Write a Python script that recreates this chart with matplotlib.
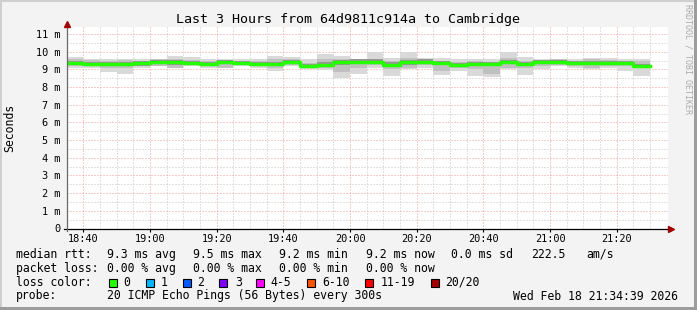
import numpy as np
import matplotlib
matplotlib.use("Agg")
import matplotlib.pyplot as plt
from matplotlib.patches import Rectangle

# 5-minute steps, minutes after 18:00
step_start = [35 + 5 * i for i in range(35)]

median = [9.38, 9.32, 9.32, 9.33, 9.34, 9.42, 9.40, 9.37, 9.33, 9.43, 9.38, 9.33,
          9.33, 9.42, 9.20, 9.28, 9.40, 9.45, 9.45, 9.28, 9.40, 9.45, 9.37, 9.25,
          9.30, 9.30, 9.42, 9.30, 9.43, 9.43, 9.35, 9.35, 9.35, 9.36, 9.20]
smoke_hi = [9.70, 9.57, 9.60, 9.57, 9.57, 9.60, 9.79, 9.70, 9.57, 9.57, 9.57, 9.57,
            9.75, 9.72, 9.60, 9.85, 9.75, 9.60, 10.0, 9.66, 10.0, 9.66, 9.66, 9.57,
            9.60, 9.57, 10.0, 9.72, 9.57, 9.60, 9.57, 9.66, 9.66, 9.57, 9.57]
smoke_lo = [9.09, 9.09, 8.85, 8.72, 9.06, 9.19, 9.09, 9.19, 9.09, 9.09, 9.19, 9.09,
            8.91, 9.19, 9.00, 8.96, 8.53, 8.77, 9.09, 8.62, 9.00, 9.09, 8.66, 8.91,
            8.62, 8.57, 9.00, 8.66, 9.00, 9.19, 9.09, 9.00, 9.09, 8.91, 8.62]
inner_hi = [9.57, 9.51, 9.47, 9.53, 9.47, 9.57, 9.60, 9.53, 9.47, 9.47, 9.47, 9.47,
            9.60, 9.60, 9.38, 9.57, 9.57, 9.60, 9.57, 9.47, 9.66, 9.57, 9.47, 9.42,
            9.47, 9.38, 9.66, 9.47, 9.51, 9.57, 9.47, 9.60, 9.51, 9.47, 9.47]
inner_lo = [9.19, 9.19, 9.09, 9.09, 9.19, 9.19, 9.09, 9.23, 9.19, 9.09, 9.23, 9.19,
            9.09, 9.23, 9.09, 9.09, 8.85, 9.09, 9.28, 9.00, 9.09, 9.23, 8.91, 9.09,
            9.00, 8.72, 9.09, 9.09, 9.19, 9.23, 9.19, 9.09, 9.19, 9.19, 9.09]

time_ticks = [40, 60, 80, 100, 120, 140, 160, 180, 200]
time_labels = ["18:40", "19:00", "19:20", "19:40", "20:00", "20:20", "20:40", "21:00", "21:20"]
y_ticks = list(range(12))
y_labels = ["0"] + [f"{v} m" for v in range(1, 12)]

loss_names = ["0", "1", "2", "3", "4-5", "6-10", "11-19", "20/20"]
loss_colors = ["#26ff00", "#00b8ff", "#0059ff", "#7e00ff", "#ff00ff", "#ff5500", "#ff0000", "#a10000"]
loss_box_x = [108.7, 145.7, 182.7, 219.3, 256, 307.3, 365.3, 430.7]
loss_text_x = [123.3, 161, 197, 235, 270.7, 322.3, 380.7, 445.3]

W, H = 697, 310
mono = "DejaVu Sans Mono"
plt.rcParams["font.family"] = mono

fig = plt.figure(figsize=(W / 100, H / 100), dpi=100, facecolor="#f3f3f3")

# frame
def px_rect(x, y, w, h, color):
    fig.add_artist(Rectangle((x / W, 1 - (y + h) / H), w / W, h / H,
                             transform=fig.transFigure, color=color, lw=0, zorder=0))

px_rect(0, 0, W, 2, "#cfcfcf")
px_rect(0, 0, 2, H, "#cfcfcf")
px_rect(0, H - 3, W, 3, "#9c9c9c")
px_rect(W - 3, 0, 3, H, "#9c9c9c")

ax_l, ax_r, ax_t, ax_b = 67, 668, 27, 228.5
ax = fig.add_axes([ax_l / W, 1 - ax_b / H, (ax_r - ax_l) / W, (ax_b - ax_t) / H])
ax.set_facecolor("white")
ax.set_xlim(35.1, 35.1 + (ax_r - ax_l) * 0.3)
ax.set_ylim(0, (ax_b - ax_t) / 17.67)

# grid
dots = (0, (1, 2))
for xm in range(40, 215, 5):
    if xm not in time_ticks:
        ax.axvline(xm, color="#c4c4c4", lw=0.72, ls=dots, zorder=1)
for ym in np.arange(0.5, 11.5, 1.0):
    ax.axhline(ym, color="#c4c4c4", lw=0.72, ls=dots, zorder=1)
for xm in time_ticks:
    ax.axvline(xm, color="#f09a9a", lw=0.72, ls=dots, zorder=1)
for ym in range(1, 12):
    ax.axhline(ym, color="#f09a9a", lw=0.72, ls=dots, zorder=1)

# smoke + median
xs = np.append(step_start, step_start[-1] + 5)
def ext(a):
    return np.append(a, a[-1])

ax.fill_between(xs, ext(smoke_lo), ext(smoke_hi), step="post", color="#d9d9d9", lw=0, zorder=2)
ax.fill_between(xs, ext(inner_lo), ext(inner_hi), step="post", color="#c0c0c0", lw=0, zorder=3)
med = np.array(median)
ax.fill_between(xs, ext(med - 0.12), ext(med + 0.12), step="post", color="#969696", lw=0, zorder=4)
ax.step(xs, ext(median), where="post", color="#26ff00", lw=2.5, zorder=5)

for s in ax.spines.values():
    s.set_visible(False)

ax.set_xticks(time_ticks)
ax.set_xticklabels(time_labels)
ax.set_yticks(y_ticks)
ax.set_yticklabels(y_labels)
ax.tick_params(axis="x", length=2.2, width=0.8, color="black", pad=1.8, labelsize=7.4)
ax.tick_params(axis="y", length=0, pad=5, labelsize=7.4)

# axes lines and arrows
ax.plot([-0.005, 1.0], [0, 0], transform=ax.transAxes, color="black", lw=0.9, clip_on=False, zorder=6)
ax.plot([0, 0], [-0.012, 1.0], transform=ax.transAxes, color="#6a6a6a", lw=0.9, clip_on=False, zorder=6)
ax.plot([0], [1.0 + 3 / (ax_b - ax_t)], transform=ax.transAxes, marker="^", ms=4.5,
        color="#a00000", clip_on=False, zorder=7)
ax.plot([1.0 + 3 / (ax_r - ax_l)], [0], transform=ax.transAxes, marker=">", ms=4.5,
        color="#a00000", clip_on=False, zorder=7)

def ftext(x, y, s, **kw):
    fig.text(x / W, 1 - y / H, s, va="center", **kw)

ftext(348.5, 19, "Last 3 Hours from 64d9811c914a to Cambridge", ha="center", fontsize=9.6)
ftext(10, 127.5, "Seconds", ha="center", rotation=90, fontsize=8.3)
ftext(688, 59, "RRDTOOL / TOBI OETIKER", ha="center", rotation=-90, fontsize=6.0, color="#ababab")

fs = 8.3
row1 = [(16, "median rtt:"), (107.3, "9.3 ms avg"), (193.3, "9.5 ms max"), (279.3, "9.2 ms min"),
        (365.7, "9.2 ms now"), (451, "0.0 ms sd"), (530.7, "222.5"), (586, "am/s")]
row2 = [(16, "packet loss:"), (107.3, "0.00 % avg"), (193.3, "0.00 % max"),
        (279.3, "0.00 % min"), (365.7, "0.00 % now")]
for x, s in row1:
    ftext(x, 254.3, s, ha="left", fontsize=fs)
for x, s in row2:
    ftext(x, 268.3, s, ha="left", fontsize=fs)

ftext(16, 282.3, "loss color:", ha="left", fontsize=fs)
for bx, tx, name, c in zip(loss_box_x, loss_text_x, loss_names, loss_colors):
    fig.add_artist(Rectangle((bx / W, 1 - 286.7 / H), 8 / W, 8 / H, transform=fig.transFigure,
                             facecolor=c, edgecolor="black", lw=0.8))
    ftext(tx, 282.3, name, ha="left", fontsize=fs)

ftext(16, 296, "probe:", ha="left", fontsize=fs)
ftext(107.3, 296, "20 ICMP Echo Pings (56 Bytes) every 300s", ha="left", fontsize=fs)
ftext(512.7, 296, "Wed Feb 18 21:34:39 2026", ha="left", fontsize=fs)

fig.savefig("out.png", dpi=100, facecolor=fig.get_facecolor())
